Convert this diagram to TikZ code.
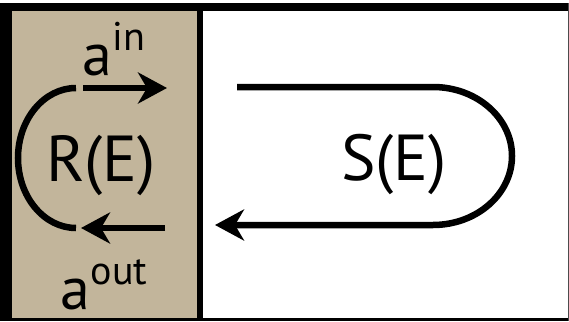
\documentclass[tikz,border=0pt]{standalone}
\usepackage{fontspec}
\setmainfont{PT Sans}
\usetikzlibrary{arrows.meta}
\definecolor{tan}{RGB}{194,181,155}
\tikzset{
  flow/.style={line width=6.5pt},
  bigarrow/.style={flow,-{Stealth[length=29pt,width=31pt,inset=9pt]}},
  bigtext/.style={inner sep=0pt,font=\fontsize{65}{67}\selectfont},
  labtext/.style={inner sep=0pt,text depth=0pt,font=\fontsize{60}{62}\selectfont},
}
\newcommand{\supr}[1]{\hspace{1pt}\raisebox{25pt}{\fontsize{40}{42}\selectfont #1}}
\begin{document}
\begin{tikzpicture}[x=1pt,y=-1pt]
\useasboundingbox (0,0) rectangle (569,321);
% panels
\fill[white] (0,0) rectangle (569,321);
\fill[tan] (12,11) rectangle (197,318);
% frame
\fill[black] (0,3) rectangle (569,11);
\fill[black] (0,3) rectangle (12,321);
\fill[black] (0,318) rectangle (569,321);
\fill[black!70] (567.5,3) rectangle (569,321);
\fill[black] (197,3) rectangle (203,321);
% texts
\node[bigtext] (R) at (101,166) {R(E)};
\node[bigtext] (S) at (394,165) {S(E)};
\node[labtext,anchor=base west] (ain) at (82,75) {a\supr{in}};
\node[labtext,anchor=base west] (aout) at (60,309) {a\supr{out}};
% coordinates
\coordinate (rt) at (76,88);
\coordinate (rb) at (76,228);
\coordinate (inS) at (83,88);
\coordinate (inE) at (167,88);
\coordinate (outS) at (165,228);
\coordinate (outE) at (81,228);
\coordinate (sS) at (237,87);
\coordinate (sA) at (433,87);
\coordinate (sB) at (433,225);
\coordinate (sE) at (215,225);
% R loop
\draw[flow] (rt) arc[start angle=-90,end angle=-270,x radius=58,y radius=70];
\draw[bigarrow] (inS) -- (inE);
\draw[bigarrow] (outS) -- (outE);
% S loop
\draw[bigarrow] (sS) -- (sA) arc[start angle=-90,end angle=90,x radius=79,y radius=69] -- (sE);
\end{tikzpicture}
\end{document}
